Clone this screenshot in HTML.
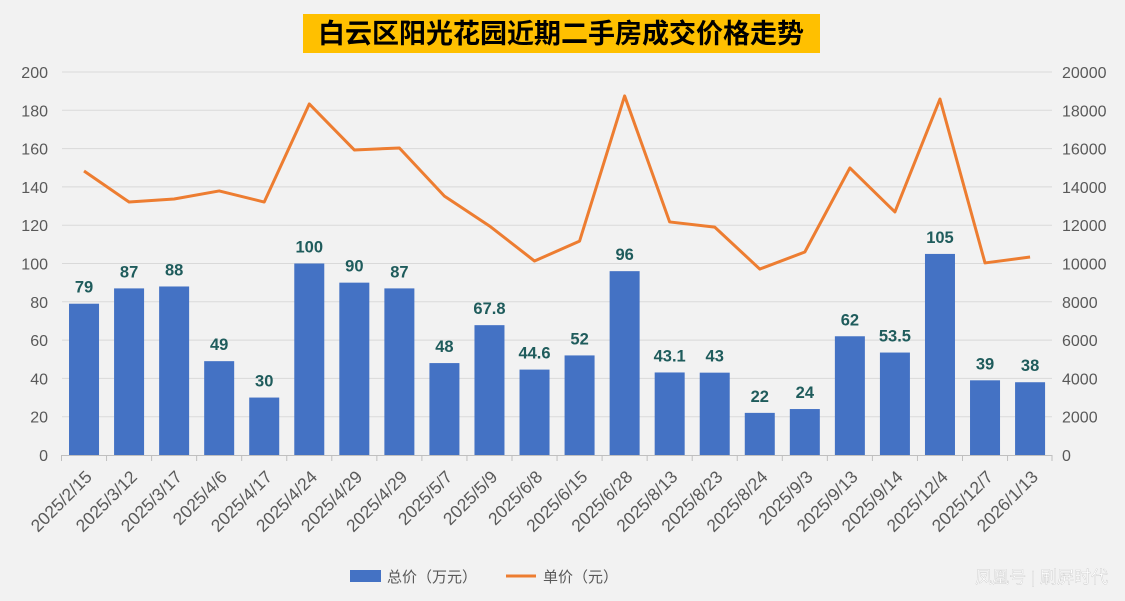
<!DOCTYPE html>
<html><head><meta charset="utf-8"><style>
body{margin:0;width:1125px;height:601px;background:#f2f2f2;overflow:hidden;font-family:"Liberation Sans","Noto Sans CJK SC",sans-serif}
</style></head><body>
<svg id="c" width="1125" height="601" xmlns="http://www.w3.org/2000/svg" style="position:absolute;left:0;top:0">
<rect x="0" y="0" width="1125" height="601" fill="#f2f2f2"/>
<rect x="303" y="14" width="517" height="39" fill="#ffc000"/>
<text x="561" y="43" text-anchor="middle" font-size="27" font-weight="bold" fill="#000" font-family="'Noto Sans CJK SC',sans-serif">白云区阳光花园近期二手房成交价格走势</text>
</svg>
<script>
var s=document.getElementById('c'),h='';
var L=61.5,W=45.05,y0=455,ph=383;
function Y(v,m){return y0-v/m*ph}
for(var i=0;i<=10;i++){var y=Y(i*20,200);
 if(i>0)h+='<line x1="62" x2="1052" y1="'+y+'" y2="'+y+'" stroke="#d9d9d9" stroke-width="1"/>';
 h+='<text x="48" y="'+(y+6)+'" text-anchor="end" font-size="16" fill="#595959">'+(i*20)+'</text>';
 h+='<text x="1062" y="'+(y+6)+'" font-size="16" fill="#595959">'+(i*2000)+'</text>';}
h+='<line x1="62" x2="1052" y1="455.5" y2="455.5" stroke="#bfbfbf"/>';
var d=["2025/2/15","2025/3/12","2025/3/17","2025/4/6","2025/4/17","2025/4/24","2025/4/29","2025/4/29","2025/5/7","2025/5/9","2025/6/8","2025/6/15","2025/6/28","2025/8/13","2025/8/23","2025/8/24","2025/9/3","2025/9/13","2025/9/14","2025/12/4","2025/12/7","2026/1/13"];
var b=[79,87,88,49,30,100,90,87,48,67.8,44.6,52,96,43.1,43,22,24,62,53.5,105,39,38];
var p=[14830,13210,13370,13790,13210,18330,15930,16030,13520,11960,10130,11170,18750,12170,11900,9710,10600,14990,12690,18590,10030,10340];
var pts=[];
for(var i=0;i<22;i++){var cx=L+W*(i+0.5);
 h+='<line x1="'+(L+W*i)+'" x2="'+(L+W*i)+'" y1="455" y2="461" stroke="#bfbfbf"/>';
 var by=Y(b[i],200);
 h+='<rect x="'+(cx-15)+'" y="'+by+'" width="30" height="'+(y0-by)+'" fill="#4472c4"/>';
 h+='<text x="'+cx+'" y="'+(by-11)+'" text-anchor="middle" font-size="16.5" font-weight="bold" fill="#1f5c5c">'+b[i]+'</text>';
 h+='<text transform="translate('+(cx+9)+',478) rotate(-45)" text-anchor="end" font-size="17.5" fill="#595959">'+d[i]+'</text>';
 pts.push(cx+','+Y(p[i],20000));}
h+='<line x1="1052" x2="1052" y1="455" y2="461" stroke="#bfbfbf"/>';
h+='<polyline points="'+pts.join(' ')+'" fill="none" stroke="#ed7d31" stroke-width="3" stroke-linejoin="round"/>';
h+='<rect x="350" y="570" width="31" height="12" fill="#4472c4"/><text x="387" y="582" font-size="15" fill="#595959">总价（万元）</text>';
h+='<line x1="506" x2="536" y1="576" y2="576" stroke="#ed7d31" stroke-width="3"/><text x="543" y="582" font-size="15" fill="#595959">单价（元）</text>';
h+='<text x="1108" y="583" text-anchor="end" font-size="17" fill="#ffffff" stroke="#bbb" stroke-width="0.3">凤凰号 | 刷屏时代</text>';
s.insertAdjacentHTML('beforeend',h);
</script>
</body></html>
